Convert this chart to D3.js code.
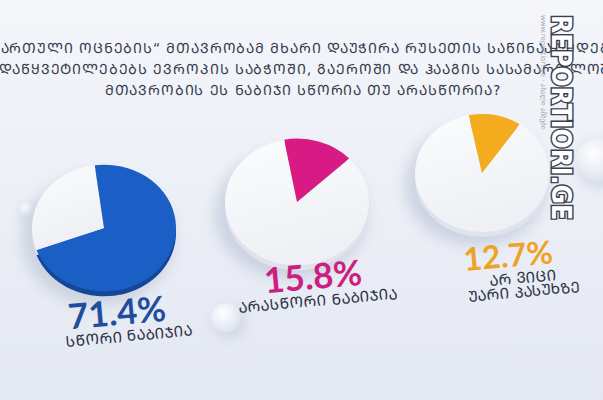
<!DOCTYPE html>
<html>
<head>
<meta charset="utf-8">
<script src="https://cdn.jsdelivr.net/npm/d3@7"></script>
<style>
body { margin: 0; background: #eef1f7; overflow: hidden; }
svg { display: block; }
</style>
</head>
<body>
<div id="chart"></div>
<script>
// question (3 lines, first two overflow the frame like in the original)
var titleLines = [
    "„ᲥᲐᲠᲗᲣᲚᲘ ᲝᲪᲜᲔᲑᲘᲡ“ ᲛᲗᲐᲕᲠᲝᲑᲐᲛ ᲛᲮᲐᲠᲘ ᲓᲐᲣᲭᲘᲠᲐ ᲠᲣᲡᲔᲗᲘᲡ ᲡᲐᲬᲘᲜᲐᲐᲦᲛᲓᲔᲒᲝ",
    "ᲒᲐᲓᲐᲬᲧᲕᲔᲢᲘᲚᲔᲑᲔᲑᲡ ᲔᲕᲠᲝᲞᲘᲡ ᲡᲐᲑᲭᲝᲨᲘ, ᲒᲐᲔᲠᲝᲨᲘ ᲓᲐ ᲰᲐᲐᲒᲘᲡ ᲡᲐᲡᲐᲛᲐᲠᲗᲚᲝᲨᲘ.",
    "ᲛᲗᲐᲕᲠᲝᲑᲘᲡ ᲔᲡ ᲜᲐᲑᲘᲯᲘ ᲡᲬᲝᲠᲘᲐ ᲗᲣ ᲐᲠᲐᲡᲬᲝᲠᲘᲐ?"
];
var answers = [
    ["ᲡᲬᲝᲠᲘ ᲜᲐᲑᲘᲯᲘᲐ"],
    ["ᲐᲠᲐᲡᲬᲝᲠᲘ ᲜᲐᲑᲘᲯᲘᲐ"],
    ["ᲐᲠ ᲕᲘᲪᲘ", "ᲣᲐᲠᲘ ᲞᲐᲡᲣᲮᲖᲔ"]
];
var shares = [71.4, 15.8, 12.7];
var sliceColors = ["#1b5fc6", "#d81b84", "#f5ab1e"];
var labelColors = ["#1f4f9c", "#cc1f7f", "#eea326"];
var watermark = "REPORTIORI.GE";
var watermarkSub = "www.reportiori.ge  ·  ახალი ამბები";

var W = 603, H = 400;
var svg = d3.select("#chart").append("svg").attr("width", W).attr("height", H);
var defs = svg.append("defs");

var bg = defs.append("linearGradient").attr("id", "bg").attr("x1", 0).attr("y1", 0).attr("x2", 0).attr("y2", 1);
bg.append("stop").attr("offset", "0%").attr("stop-color", "#f4f6fa");
bg.append("stop").attr("offset", "100%").attr("stop-color", "#e4e8f2");
svg.append("rect").attr("width", W).attr("height", H).attr("fill", "url(#bg)");

var sh = defs.append("filter").attr("id", "shadow").attr("x", "-40%").attr("y", "-40%").attr("width", "180%").attr("height", "180%");
sh.append("feGaussianBlur").attr("stdDeviation", 7);

var ball = defs.append("radialGradient").attr("id", "ball").attr("cx", "40%").attr("cy", "35%").attr("r", "65%");
ball.append("stop").attr("offset", "0%").attr("stop-color", "#ffffff");
ball.append("stop").attr("offset", "100%").attr("stop-color", "#dde2ee");

var face = defs.append("linearGradient").attr("id", "face").attr("x1", 0).attr("y1", 0).attr("x2", 0.3).attr("y2", 1);
face.append("stop").attr("offset", "0%").attr("stop-color", "#fbfcfd");
face.append("stop").attr("offset", "100%").attr("stop-color", "#eef0f5");

// small decorative spheres
[[27, 210, 8], [226, 318, 15], [598, 160, 22]].forEach(function(b) {
    svg.append("circle").attr("cx", b[0] + 3).attr("cy", b[1] + 4).attr("r", b[2]).attr("fill", "#c9d0e0").attr("filter", "url(#shadow)");
    svg.append("circle").attr("cx", b[0]).attr("cy", b[1]).attr("r", b[2]).attr("fill", "url(#ball)");
});

// title
svg.append("g")
    .attr("font-family", "DejaVu Sans, Noto Sans, sans-serif")
    .attr("font-size", 14)
    .attr("letter-spacing", 0.85)
    .attr("fill", "#363d4d")
    .attr("text-anchor", "middle")
    .selectAll("text")
    .data(titleLines)
    .enter().append("text")
    .attr("x", 303)
    .attr("y", function(d, i) { return 53 + i * 21; })
    .text(function(d) { return d; });

// pies
var centers = [[104, 228], [297, 202], [482, 173]];
var radii = [72, 72, 67];
var starts = [-0.13, -0.18, -0.2];
var tilt = 0.88;

shares.forEach(function(v, k) {
    var pie = d3.pie().sort(null).startAngle(starts[k]).endAngle(starts[k] + 2 * Math.PI);
    var arcs = pie([v, 100 - v]);
    var arc = d3.arc().innerRadius(0).outerRadius(radii[k]);
    var g = svg.append("g").attr("transform", "translate(" + centers[k][0] + "," + centers[k][1] + ")");

    g.append("ellipse").attr("cx", -6).attr("cy", 12).attr("rx", radii[k] + 4).attr("ry", radii[k] * tilt + 2)
        .attr("fill", "#bfc7d9").attr("opacity", 0.7).attr("filter", "url(#shadow)");

    var side = g.append("g").attr("transform", "translate(0,5) scale(1," + tilt + ")");
    side.selectAll("path").data(arcs).enter().append("path")
        .attr("d", arc)
        .attr("fill", function(d, i) { return i == 0 ? d3.color(sliceColors[k]).darker(0.8) : "#dfe3ec"; });

    var top = g.append("g").attr("transform", "scale(1," + tilt + ")");
    top.selectAll("path").data(arcs).enter().append("path")
        .attr("d", arc)
        .attr("fill", function(d, i) { return i == 0 ? sliceColors[k] : "url(#face)"; });
});

// value labels
var labelPos = [[118, 325], [314, 289], [509, 267]];
var labelSize = [35, 35, 32];
var subDx = [10, 3, 13];
shares.forEach(function(v, k) {
    var g = svg.append("g")
        .attr("transform", "translate(" + labelPos[k][0] + "," + labelPos[k][1] + ") rotate(-5)")
        .attr("text-anchor", "middle");
    g.append("text")
        .attr("font-family", "Lato, Open Sans, sans-serif")
        .attr("font-weight", 700)
        .attr("font-size", labelSize[k])
        .attr("fill", labelColors[k])
        .text(d3.format(".1f")(v) + "%");
    g.selectAll("text.sub").data(answers[k]).enter().append("text")
        .attr("class", "sub")
        .attr("font-family", "DejaVu Sans, sans-serif")
        .attr("font-size", 15)
        .attr("fill", "#2c3346")
        .attr("x", subDx[k])
        .attr("y", function(d, i) { return 17 + i * 14; })
        .text(function(d) { return d; });
});

// watermark, vertical along the right edge
var wm = svg.append("g").attr("transform", "translate(550,15) rotate(90)");
wm.append("text")
    .attr("font-family", "DejaVu Sans, sans-serif")
    .attr("font-weight", 700)
    .attr("font-size", 27)
    .attr("y", -2)
    .attr("textLength", 205)
    .attr("lengthAdjust", "spacingAndGlyphs")
    .attr("fill", "#ffffff")
    .attr("stroke", "#3c4150")
    .attr("stroke-width", 3)
    .attr("paint-order", "stroke")
    .text(watermark);
wm.append("text")
    .attr("font-family", "DejaVu Sans, sans-serif")
    .attr("font-size", 7)
    .attr("y", 9)
    .attr("fill", "#a3a9b5")
    .text(watermarkSub);
</script>
</body>
</html>
